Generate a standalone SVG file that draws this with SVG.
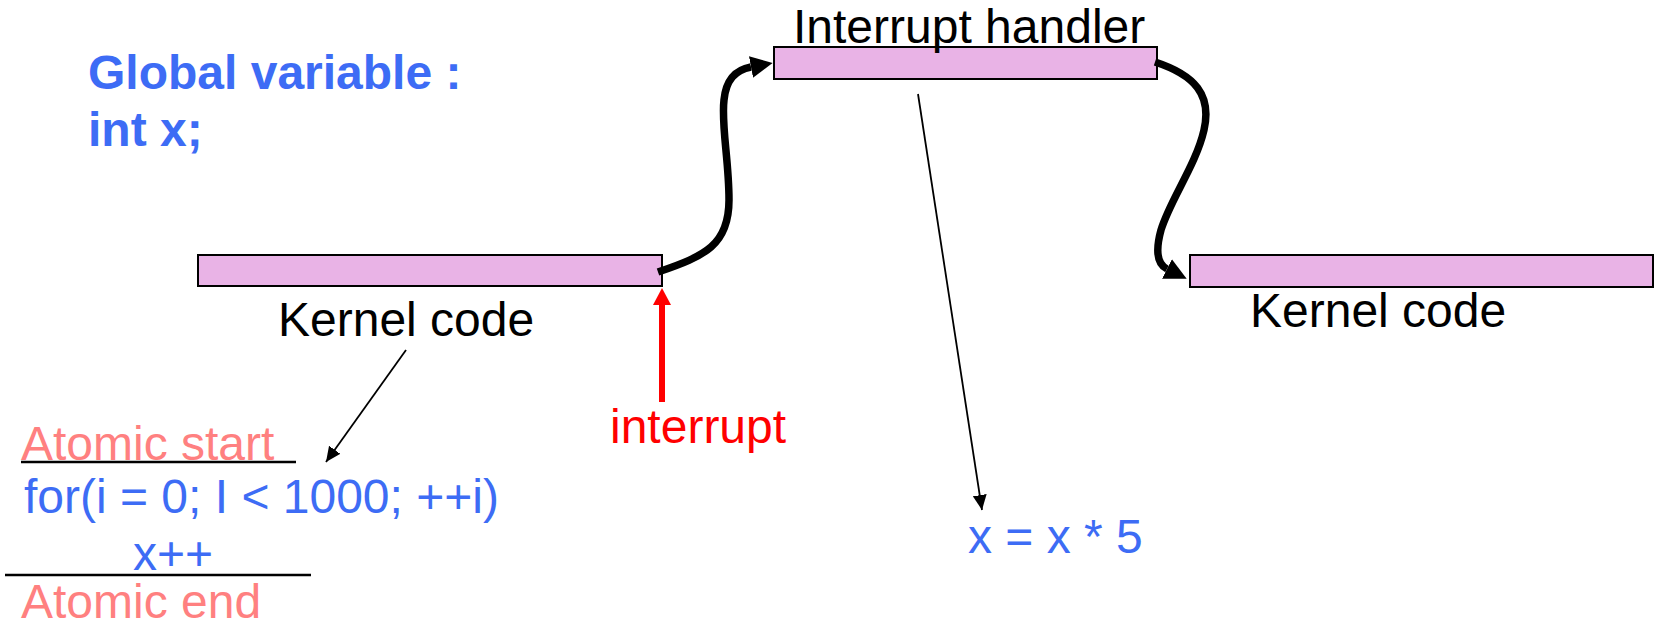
<svg xmlns="http://www.w3.org/2000/svg" width="1654" height="625" viewBox="0 0 1654 625">
  <style>
    text { font-family: "Liberation Sans", Arial, sans-serif; font-size: 48px; }
    .black { fill: #000000; }
    .blue { fill: #3d6cf5; }
    .bold { font-weight: bold; }
    .salmon { fill: #ff8080; }
    .red { fill: #ff0000; }
    .bar { fill: #e9b3e6; stroke: #000000; stroke-width: 2; }
    .thick { fill: none; stroke: #000000; stroke-width: 7.5; }
    .thin { fill: none; stroke: #000000; stroke-width: 1.8; }
    .rule { stroke: #000000; stroke-width: 2.5; }
  </style>
  <defs>
    <marker id="bigArrow" viewBox="0 0 22 22" refX="0" refY="11" markerWidth="22" markerHeight="22" markerUnits="userSpaceOnUse" orient="auto">
      <path d="M0,0 L22,11 L0,22 z" fill="#000000"/>
    </marker>
    <marker id="smallArrow" viewBox="0 0 15 14" refX="15" refY="7" markerWidth="15" markerHeight="14" markerUnits="userSpaceOnUse" orient="auto">
      <path d="M0,0 L15,7 L0,14 z" fill="#000000"/>
    </marker>
  </defs>

  <g id="global-var">
    <text class="blue bold" x="88" y="89">Global variable :</text>
    <text class="blue bold" x="88" y="146">int x;</text>
  </g>

  <g id="kernel-code-1">
    <rect class="bar" x="198" y="255" width="464" height="31"/>
    <text class="black" x="278" y="336">Kernel code</text>
  </g>

  <g id="interrupt-handler">
    <rect class="bar" x="774" y="47" width="383" height="32"/>
    <text class="black" x="793" y="43">Interrupt handler</text>
  </g>

  <g id="kernel-code-2">
    <rect class="bar" x="1190" y="255" width="463" height="32"/>
    <text class="black" x="1250" y="327">Kernel code</text>
  </g>

  <g id="interrupt-label">
    <text class="red" x="610" y="443">interrupt</text>
  </g>

  <g id="atomic-block">
    <text class="salmon" x="21" y="460">Atomic start</text>
    <line class="rule" x1="21" y1="462" x2="296" y2="462"/>
    <text class="blue" x="24" y="513">for(i = 0; I &lt; 1000; ++i)</text>
    <text class="blue" x="133" y="570">x++</text>
    <line class="rule" x1="5" y1="575" x2="311" y2="575"/>
    <text class="salmon" x="21" y="618">Atomic end</text>
  </g>

  <g id="handler-code">
    <text class="blue" x="968" y="553">x = x * 5</text>
  </g>

  <g id="connectors">
    <path class="thick" d="M 658 272 C 705 256, 729 245, 729 200 C 729 160, 721 125, 724 100 C 726 80, 735 70, 751 67" marker-end="url(#bigArrow)"/>
    <path class="thick" d="M 1155 62 C 1195 75, 1212 95, 1204 130 C 1196 165, 1170 200, 1161 230 C 1155 252, 1157 264, 1167 269" marker-end="url(#bigArrow)"/>
    <line x1="662" y1="402" x2="662" y2="304" stroke="#ff0000" stroke-width="6"/>
    <polygon points="662,288 653,305 671,305" fill="#ff0000"/>
    <line class="thin" x1="406" y1="350" x2="326" y2="462" marker-end="url(#smallArrow)"/>
    <line class="thin" x1="918" y1="94" x2="982" y2="510" marker-end="url(#smallArrow)"/>
  </g>
</svg>
